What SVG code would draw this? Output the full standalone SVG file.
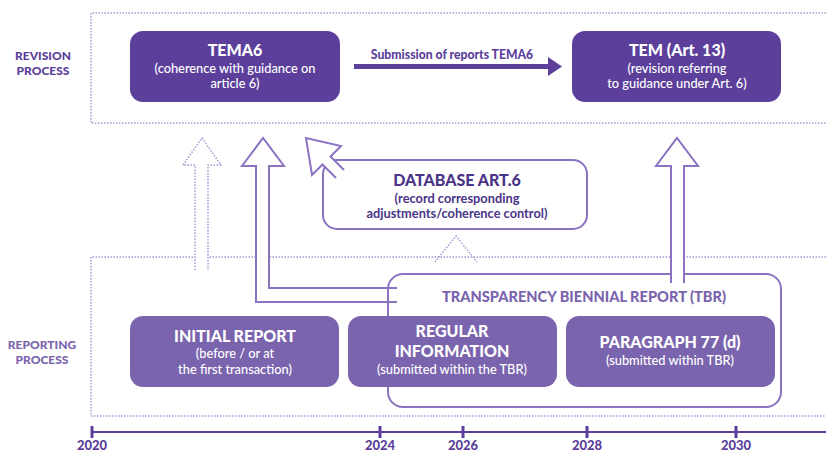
<svg xmlns="http://www.w3.org/2000/svg" width="826" height="452" viewBox="0 0 826 452">
<defs>
<style>
text{font-family:Lato,"Open Sans","Liberation Sans",sans-serif;text-anchor:middle}
.dot{fill:none;stroke:#a899d2;stroke-width:1.5;stroke-dasharray:1.5 1.5}
.dk{fill:#5b3f9b}
.lt{fill:#7a64ae}
.ol{fill:#fff;stroke:#8b73c1;stroke-width:2}
.olnf{fill:none;stroke:#8b73c1;stroke-width:2}
.w{fill:#fff}
.t{font-weight:900;font-size:16px}
.s{font-weight:500;font-size:12.8px}
.lab{font-weight:900;font-size:12px}
.yr{fill:#5b3f9b;font-weight:900;font-size:13px}
</style>
</defs>
<rect width="826" height="452" fill="#fff"/>
<g id="frames">
<path class="dot" d="M826,13H91V123H826"/>
<path class="dot" d="M826,257H91V416H826"/>
</g>
<g id="labels">
<text class="lab" fill="#5b3f9b"><tspan x="43" y="60">REVISION</tspan><tspan x="43" y="75">PROCESS</tspan></text>
<text class="lab" fill="#7a64ae"><tspan x="42" y="349">REPORTING</tspan><tspan x="42" y="364">PROCESS</tspan></text>
</g>
<g id="connectors">
<path class="dot" style="fill:#fff" d="M195,270V165H183L202,138L221,165H208V270"/>
<path class="ol" d="M397,302H256V166H242L263,138L284,166H269V288H397"/>
<path fill="#5b3f9b" d="M354,64H548V57L562,66.5L548,76V69H354Z"/>
<text x="452" y="59" fill="#5b3f9b" font-weight="900" font-size="12.2">Submission of reports TEMA6</text>
<path class="dot" d="M435,262L456,236L477,262"/>
</g>
<g id="tbr">
<rect x="388" y="274" width="393" height="133" rx="15" class="olnf"/>
<text x="584" y="302" fill="#7a64ae" font-weight="900" font-size="14.6">TRANSPARENCY BIENNIAL REPORT (TBR)</text>
</g>
<g id="arrow-tem">
<path class="ol" d="M671,283V166H656L677,138L698,166H684V283"/>
<path fill="#fff" d="M672,272H683V276H672Z"/>
</g>
<g id="database">
<rect x="323" y="160" width="264" height="69" rx="14" class="olnf"/>
<path fill="#fff" d="M344,170L331,157L341,146L306,138L312,175L322,164L336,178Z"/>
<path class="olnf" d="M344,170L330.5,156.5L341,146L306,138L312,175L322.5,164.5L336,178"/>
<text fill="#4a3488" font-weight="700" font-size="12.8"><tspan x="457" y="186" font-weight="900" font-size="16">DATABASE ART.6</tspan><tspan x="457" y="202.5">(record corresponding</tspan><tspan x="457" y="218">adjustments/coherence control)</tspan></text>
</g>
<g id="tema6">
<rect x="130" y="31" width="210" height="71" rx="13" class="dk"/>
<text class="w"><tspan class="t" x="235" y="56">TEMA6</tspan><tspan class="s" x="235" y="72.5">(coherence with guidance on</tspan><tspan class="s" x="235" y="88">article 6)</tspan></text>
</g>
<g id="tem">
<rect x="572" y="31" width="209" height="71" rx="13" class="dk"/>
<text class="w"><tspan class="t" x="677" y="56">TEM (Art. 13)</tspan><tspan class="s" x="677" y="72.5">(revision referring</tspan><tspan class="s" x="677" y="88">to guidance under Art. 6)</tspan></text>
</g>
<g id="initial">
<rect x="130" y="316" width="209" height="71" rx="13" class="lt"/>
<text class="w"><tspan class="t" x="235" y="341.5">INITIAL REPORT</tspan><tspan class="s" x="235" y="358">(before / or at</tspan><tspan class="s" x="235" y="373.5">the first transaction)</tspan></text>
</g>
<g id="regular">
<rect x="348" y="316" width="209" height="71" rx="13" class="lt"/>
<text class="w"><tspan class="t" x="452" y="337">REGULAR</tspan><tspan class="t" x="452" y="356.5">INFORMATION</tspan><tspan class="s" x="452" y="373.5">(submitted within the TBR)</tspan></text>
</g>
<g id="paragraph">
<rect x="566" y="316" width="209" height="71" rx="13" class="lt"/>
<text class="w"><tspan class="t" x="670" y="348">PARAGRAPH 77 (d)</tspan><tspan class="s" x="670" y="364.5">(submitted within TBR)</tspan></text>
</g>
<g id="timeline">
<path d="M92,432H826" stroke="#5b3f9b" stroke-width="2"/>
<path d="M92,426V438M380,426V438M463,426V438M587,426V438M736,426V438" stroke="#5b3f9b" stroke-width="3"/>
<text class="yr" x="92" y="450">2020</text>
<text class="yr" x="380" y="450">2024</text>
<text class="yr" x="463" y="450">2026</text>
<text class="yr" x="587" y="450">2028</text>
<text class="yr" x="736" y="450">2030</text>
</g>
</svg>
